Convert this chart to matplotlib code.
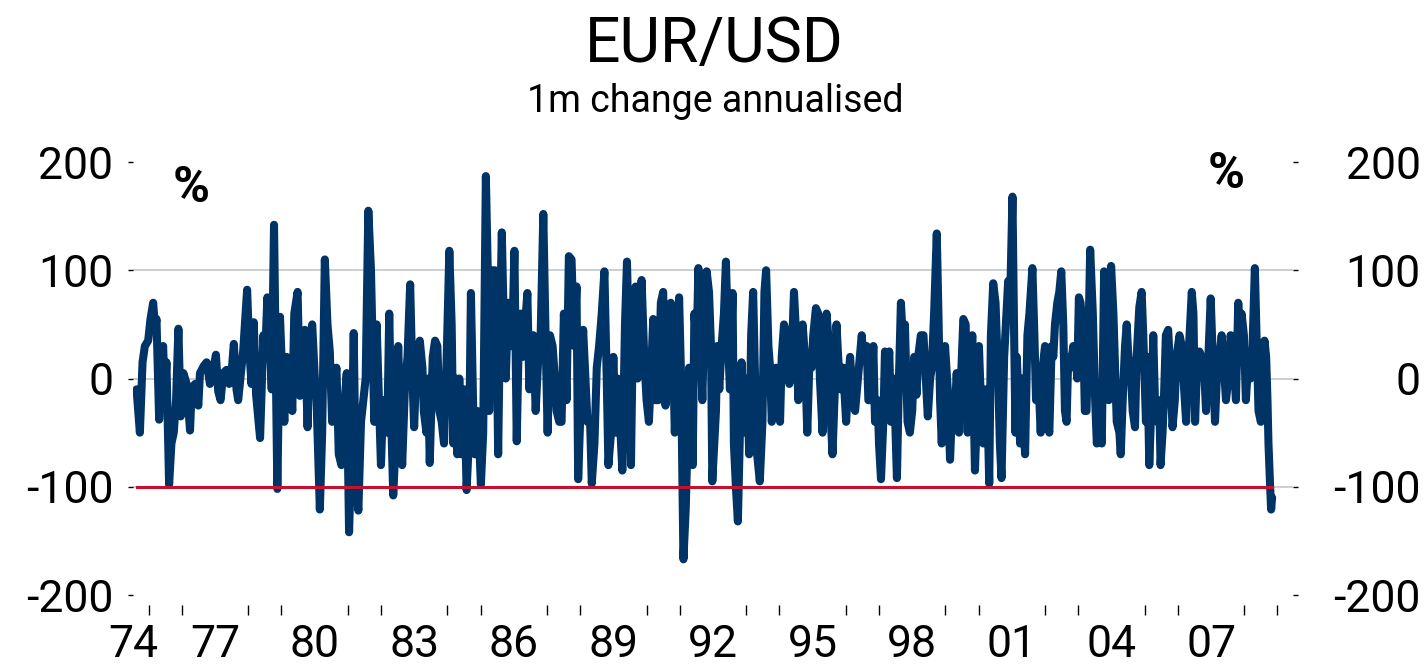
import matplotlib
matplotlib.use("Agg")
import matplotlib.pyplot as plt
from matplotlib.ticker import FixedLocator, FixedFormatter, NullFormatter

# ---------------- data (decimal year, % 1m change annualised) ----------------
d1 = [1974.64, 1974.74, 1974.82, 1974.89, 1974.99, 1975.06, 1975.14, 1975.20, 1975.24, 1975.32, 1975.39, 1975.44, 1975.49, 1975.54, 1975.62, 1975.69, 1975.76, 1975.83, 1975.90, 1975.97, 1976.05, 1976.15, 1976.25, 1976.30, 1976.40, 1976.50, 1976.55, 1976.67, 1976.75, 1976.85, 1976.90, 1977.03, 1977.10, 1977.17, 1977.25, 1977.35, 1977.43, 1977.50, 1977.57, 1977.65, 1977.70, 1977.80, 1977.85, 1977.97, 1978.03, 1978.10, 1978.17, 1978.24, 1978.36, 1978.46, 1978.51, 1978.58, 1978.66, 1978.71, 1978.78, 1978.88]
v1 = [-10, -50, 15, 30, 35, 55, 70, 45, 55, -38, 10, 30, -15, 15, -98, -60, -50, -20, 46, -35, 5, -5, -48, -10, -5, -25, 5, 12, 15, -5, 0, 22, -12, -20, 5, 8, -5, 5, 32, -10, -20, 10, 25, 82, 30, -5, 52, -15, -55, 40, 20, 75, 30, -10, 142, -102]

d2 = [1978.96, 1979.03, 1979.09, 1979.16, 1979.23, 1979.29, 1979.33, 1979.39, 1979.49, 1979.56, 1979.63, 1979.71, 1979.79, 1979.86, 1979.93, 1980.01, 1980.06, 1980.16, 1980.23, 1980.31, 1980.39, 1980.46, 1980.53, 1980.59, 1980.66, 1980.73, 1980.81, 1980.91, 1980.97, 1981.04, 1981.12, 1981.18, 1981.24, 1981.32, 1981.40, 1981.47, 1981.54, 1981.62, 1981.70, 1981.75, 1981.80, 1981.87, 1981.94, 1982.00, 1982.07, 1982.12, 1982.19, 1982.25, 1982.32, 1982.37, 1982.44, 1982.52, 1982.57, 1982.64, 1982.72, 1982.80, 1982.88, 1982.94, 1983.00, 1983.07]
v2 = [57, 0, -40, 20, -10, -10, -30, 60, 80, -16, 40, 45, -45, 35, 50, 0, -20, -121, -50, 110, 50, 25, -40, -10, 10, -70, -80, -20, 5, -142, -60, 42, -90, -122, -40, -20, 0, 155, 100, 30, -40, 50, -20, -80, -20, -30, -50, 60, -50, -108, -60, 30, -20, -80, -10, 20, 87, 10, -45, 15]

d3 = [1983.17, 1983.25, 1983.29, 1983.37, 1983.42, 1983.47, 1983.56, 1983.63, 1983.70, 1983.76, 1983.83, 1983.90, 1983.98, 1984.06, 1984.13, 1984.18, 1984.26, 1984.30, 1984.36, 1984.43, 1984.51, 1984.58, 1984.66, 1984.71, 1984.78, 1984.83, 1984.90, 1984.96, 1985.01, 1985.08, 1985.16, 1985.23, 1985.26, 1985.30, 1985.36, 1985.43, 1985.48, 1985.53, 1985.58, 1985.64, 1985.70, 1985.76, 1985.83, 1985.88, 1985.95, 1986.02, 1986.09, 1986.14, 1986.21, 1986.27, 1986.34, 1986.41, 1986.47, 1986.54, 1986.59, 1986.66, 1986.74, 1986.81, 1986.89, 1986.97, 1987.02, 1987.09, 1987.17, 1987.24, 1987.29, 1987.37, 1987.44, 1987.51]
v3 = [35, 10, -30, -50, 0, -78, 20, 35, 30, -30, -40, -60, 20, 118, 50, -60, 0, -70, 0, -70, -10, -103, -50, 79, -30, -70, -30, -60, -98, -50, 187, 80, -30, 60, 100, 100, 60, -70, 40, 135, 50, 0, 70, 30, 30, 118, -58, 20, 60, 20, 50, 79, -10, 30, 40, -30, 20, 40, 152, 20, -50, 40, 30, 0, -30, -40, -40, 60]

d4 = [1987.59, 1987.66, 1987.74, 1987.82, 1987.89, 1987.94, 1988.02, 1988.09, 1988.16, 1988.22, 1988.30, 1988.35, 1988.43, 1988.50, 1988.57, 1988.65, 1988.73, 1988.80, 1988.85, 1988.93, 1989.00, 1989.07, 1989.13, 1989.20, 1989.27, 1989.35, 1989.41, 1989.47, 1989.53, 1989.60, 1989.67, 1989.73, 1989.77, 1989.85, 1989.93, 1990.00, 1990.07, 1990.13, 1990.20, 1990.27, 1990.35, 1990.43, 1990.50, 1990.57, 1990.65, 1990.73, 1990.80, 1990.85, 1990.91, 1990.98, 1991.04, 1991.08, 1991.11, 1991.18, 1991.24, 1991.28, 1991.34, 1991.39, 1991.44, 1991.51, 1991.56, 1991.64, 1991.68, 1991.74, 1991.81, 1991.88, 1991.94, 1991.98]
v4 = [-20, 113, 110, 30, 85, -93, -20, 45, 0, -40, -40, -97, -60, 10, 30, 60, 99, 0, -80, -50, 20, -50, 0, -40, -85, 50, 108, 30, -80, 70, 85, 0, 40, 91, 20, -20, -40, 0, 55, -20, -20, 70, 80, -25, 20, 70, 20, -50, 0, 75, 0, -100, -167, -120, -50, 10, -30, -80, 60, 30, 102, 20, -20, 60, 99, 80, 30, -95]

d5 = [1992.09, 1992.13, 1992.19, 1992.26, 1992.33, 1992.39, 1992.46, 1992.51, 1992.59, 1992.63, 1992.69, 1992.75, 1992.81, 1992.86, 1992.91, 1992.96, 1993.03, 1993.09, 1993.15, 1993.21, 1993.26, 1993.33, 1993.41, 1993.49, 1993.55, 1993.60, 1993.67, 1993.72, 1993.77, 1993.82, 1993.90, 1993.97, 1994.02, 1994.07, 1994.14, 1994.22, 1994.30, 1994.37, 1994.44, 1994.52, 1994.57, 1994.62, 1994.70, 1994.77, 1994.84, 1994.90, 1994.97, 1995.02, 1995.10, 1995.17, 1995.22, 1995.30, 1995.37, 1995.42, 1995.47, 1995.52, 1995.60, 1995.67, 1995.72, 1995.77, 1995.84, 1995.92, 1996.01, 1996.08, 1996.13, 1996.21, 1996.28]
v5 = [-30, 30, -10, 30, 60, 108, 30, -10, 79, -60, -100, -132, -50, 15, -50, -20, 0, -70, 40, 80, 10, -70, -95, -40, 80, 100, 30, 10, -40, -20, 10, -10, -40, 20, 50, 40, -5, 20, 80, 30, -20, 30, 50, 20, -50, 10, 10, 40, 65, 60, 0, -50, 20, 60, 40, -20, -70, -10, 50, 20, -10, 10, -40, 0, 20, -20, -30]

d6 = [1996.48, 1996.53, 1996.63, 1996.68, 1996.76, 1996.83, 1996.88, 1996.96, 1997.00, 1997.06, 1997.13, 1997.18, 1997.24, 1997.31, 1997.36, 1997.43, 1997.48, 1997.54, 1997.60, 1997.66, 1997.73, 1997.78, 1997.86, 1997.93, 1998.00, 1998.06, 1998.13, 1998.18, 1998.26, 1998.34, 1998.41, 1998.47, 1998.54, 1998.59, 1998.66, 1998.74, 1998.79, 1998.84, 1998.89, 1998.94, 1998.99, 1999.07, 1999.14, 1999.21, 1999.27, 1999.34, 1999.41, 1999.47, 1999.54, 1999.61, 1999.67, 1999.74, 1999.81, 1999.89, 1999.94, 2000.01, 2000.09, 2000.14, 2000.21, 2000.27, 2000.32, 2000.37, 2000.44, 2000.51, 2000.59, 2000.64, 2000.69, 2000.77]
v6 = [40, 20, 30, -20, -20, 30, -40, -20, -60, -93, -40, 25, 0, 25, -40, 0, -30, -92, 0, 70, 30, 50, -40, -50, -30, 20, -15, 20, 40, 40, 0, -35, 0, 10, 60, 134, 60, -20, -60, 0, 30, -10, -75, -20, -40, 5, -50, 0, 55, 50, -50, 0, 40, -85, -40, 30, -40, -60, -10, -30, -97, 40, 88, 70, 0, -60, -92, 20]

d7 = [2000.89, 2000.94, 2001.02, 2001.07, 2001.11, 2001.15, 2001.20, 2001.25, 2001.30, 2001.35, 2001.40, 2001.47, 2001.53, 2001.62, 2001.68, 2001.73, 2001.80, 2001.87, 2001.93, 2002.00, 2002.07, 2002.13, 2002.20, 2002.25, 2002.30, 2002.37, 2002.43, 2002.49, 2002.55, 2002.60, 2002.65, 2002.70, 2002.77, 2002.85, 2002.93, 2002.97, 2003.02, 2003.07, 2003.15, 2003.20, 2003.25, 2003.31, 2003.36, 2003.44, 2003.51, 2003.56, 2003.64, 2003.71, 2003.78, 2003.84, 2003.88, 2003.92, 2003.99, 2004.06, 2004.11, 2004.16, 2004.24, 2004.28, 2004.34, 2004.41, 2004.46, 2004.51, 2004.58, 2004.64, 2004.71, 2004.76, 2004.84, 2004.91]
v7 = [90, 60, 168, 40, -50, 20, -20, -60, 0, -40, -70, 40, 60, 102, 40, -20, 0, -50, 10, 30, -40, -50, 30, 20, 50, 70, 80, 99, 50, -30, -40, 20, 10, 30, 20, 0, 75, 70, 40, -30, -30, 40, 119, 60, -20, -60, -40, -60, 99, 80, 20, -20, 104, 60, 10, -40, -50, -70, -20, 30, 50, 20, 10, -30, -45, 20, 66, 80]

d8 = [2004.96, 2005.04, 2005.08, 2005.14, 2005.21, 2005.26, 2005.31, 2005.38, 2005.44, 2005.48, 2005.54, 2005.58, 2005.64, 2005.71, 2005.78, 2005.84, 2005.91, 2005.96, 2006.05, 2006.12, 2006.19, 2006.25, 2006.32, 2006.37, 2006.42, 2006.47, 2006.52, 2006.59, 2006.65, 2006.72, 2006.79, 2006.85, 2006.92, 2006.99, 2007.05, 2007.12, 2007.19, 2007.25, 2007.32, 2007.39, 2007.45, 2007.52, 2007.59, 2007.67, 2007.75, 2007.82, 2007.87, 2007.92, 2007.99, 2008.05, 2008.09, 2008.15, 2008.19, 2008.25, 2008.32, 2008.37, 2008.43, 2008.50, 2008.56, 2008.61, 2008.66, 2008.70, 2008.73, 2008.78, 2008.81, 2008.84]
v8 = [40, -40, 20, -80, -20, 40, -20, -40, -20, -80, -50, -20, 40, 45, 0, -45, -20, 20, 40, 30, -10, -40, 20, 50, 80, 60, -40, 20, 25, 20, 10, -30, 20, 74, 20, -40, 10, 20, 40, 10, -20, 0, 40, 20, -20, 70, 30, 60, 40, -20, 0, 20, 0, 30, 102, 40, -30, -40, -20, 35, 20, -20, -60, -100, -121, -110]

threshold = -100
grid_levels = [-100, 0, 100]
y_ticks = [-200, -100, 0, 100, 200]
y_labels = ["-200", "-100", "0", "100", "200"]
x_label_years = [1977, 1980, 1983, 1986, 1989, 1992, 1995, 1998, 2001, 2004, 2007]
x_labels = ["74", "77", "80", "83", "86", "89", "92", "95", "98", "01", "04", "07"]
minor_years = list(range(1975, 2010))

segments_d = [d1, d2, d3, d4, d5, d6, d7, d8]
segments_v = [v1, v2, v3, v4, v5, v6, v7, v8]
dates, values = [], []
for dd, vv in zip(segments_d, segments_v):
    assert len(dd) == len(vv), (len(dd), len(vv))
    dates += dd
    values += vv

# ---------------- style ----------------
FONT = ["Roboto", "DejaVu Sans"]
plt.rcParams["font.family"] = FONT
NAVY = "#003366"
RED = "#C8102E"
GRID = "#C4C7CB"

fig = plt.figure(figsize=(14.25, 6.7), dpi=100)
ax = fig.add_axes([0.0935, 0.097, 0.8139, 0.6612])
xmin, xmax = 1974.54, 2009.47
ax.set_xlim(xmin, xmax)
ax.set_ylim(-209.2, 200)

for g in grid_levels:
    ax.axhline(g, color=GRID, lw=1.2, zorder=1)

ax.plot(dates, values, color=NAVY, lw=5.8, solid_joinstyle="round",
        solid_capstyle="round", zorder=2)
ax.plot([dates[0], dates[-1]], [threshold, threshold], color=RED, lw=2.2,
        zorder=3)

for s in ax.spines.values():
    s.set_visible(False)

# x axis
ax.xaxis.set_major_locator(FixedLocator([xmin] + x_label_years))
ax.xaxis.set_major_formatter(FixedFormatter(x_labels))
ax.xaxis.set_minor_locator(FixedLocator([xmin] + minor_years))
ax.xaxis.set_minor_formatter(NullFormatter())
ax.tick_params(axis="x", which="major", length=0, pad=14, labelsize=32)
ax.tick_params(axis="x", which="minor", length=7.5, width=1.0, color="black",
               direction="out")

# left y axis
ax.set_yticks(y_ticks)
ax.set_yticklabels(y_labels)
ax.tick_params(axis="y", which="major", length=3.8, width=1.0, direction="out",
               pad=10.5, labelsize=32, color="black")

# right y axis
ax2 = ax.twinx()
ax2.set_ylim(ax.get_ylim())
ax2.set_yticks(y_ticks)
ax2.set_yticklabels(y_labels)
for s in ax2.spines.values():
    s.set_visible(False)
ax2.tick_params(axis="y", which="major", length=3.8, width=1.0, direction="out",
                pad=88, labelsize=32, color="black")
for lbl in ax2.get_yticklabels():
    lbl.set_horizontalalignment("right")

# titles and unit labels
fig.text(0.501, 1 - 62 / 670, "EUR/USD", ha="center", va="baseline", fontsize=45)
fig.text(0.502, 1 - 112 / 670, "1m change annualised", ha="center", va="baseline",
         fontsize=27)
fig.text(191 / 1425, 1 - 188 / 670, "%", ha="center", va="center", fontsize=36,
         fontweight="bold")
fig.text(1226 / 1425, 1 - 174 / 670, "%", ha="center", va="center", fontsize=36,
         fontweight="bold")

fig.savefig("out.png", dpi=100)
